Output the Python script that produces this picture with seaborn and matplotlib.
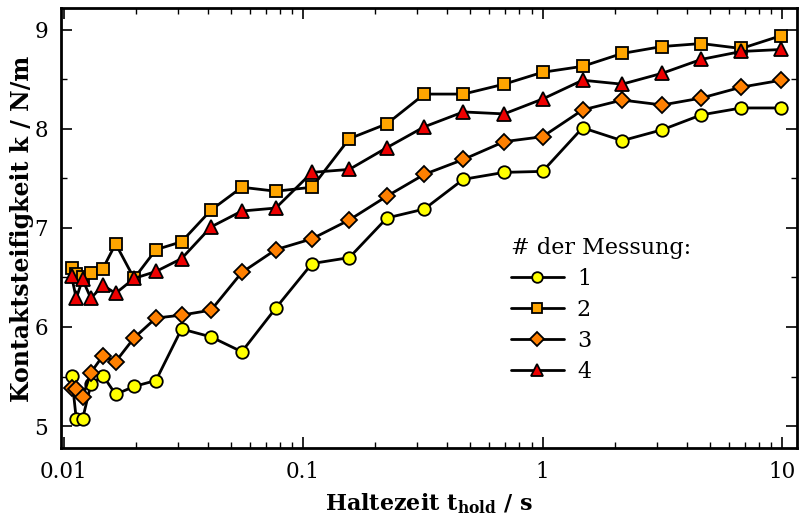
import matplotlib
matplotlib.use("Agg")
import matplotlib.pyplot as plt
import numpy as np
import pandas as pd
import seaborn as sns
from matplotlib.ticker import FixedLocator, FixedFormatter, LogLocator, NullFormatter, MultipleLocator

# Hold times in seconds (shared by all four measurements)
hold_time = [0.0108, 0.0113, 0.0120, 0.0130, 0.0146, 0.0165, 0.0197, 0.0243, 0.0311,
             0.0413, 0.0555, 0.0769, 0.109, 0.156, 0.224, 0.321, 0.467, 0.691,
             1.00, 1.47, 2.15, 3.16, 4.60, 6.76, 9.93]

# Contact stiffness k in N/m for each measurement
k_mess1 = [5.51, 5.07, 5.07, 5.42, 5.51, 5.32, 5.40, 5.46, 5.98, 5.90, 5.75, 6.19, 6.64,
           6.70, 7.10, 7.19, 7.49, 7.56, 7.57, 8.01, 7.88, 7.99, 8.14, 8.21, 8.21]
k_mess2 = [6.60, 6.53, 6.50, 6.54, 6.59, 6.84, 6.49, 6.78, 6.86, 7.18, 7.41, 7.37, 7.41,
           7.90, 8.05, 8.35, 8.35, 8.45, 8.57, 8.63, 8.76, 8.83, 8.86, 8.81, 8.94]
k_mess3 = [5.38, 5.37, 5.29, 5.54, 5.71, 5.65, 5.89, 6.09, 6.12, 6.17, 6.55, 6.78, 6.89,
           7.08, 7.32, 7.54, 7.69, 7.87, 7.92, 8.19, 8.29, 8.24, 8.31, 8.42, 8.49]
k_mess4 = [6.51, 6.29, 6.48, 6.29, 6.42, 6.34, 6.49, 6.56, 6.69, 7.01, 7.17, 7.20, 7.56,
           7.59, 7.81, 8.02, 8.17, 8.15, 8.30, 8.49, 8.45, 8.56, 8.70, 8.78, 8.80]

series_labels = ["1", "2", "3", "4"]
face_colors = ["#FFFF00", "#FFA500", "#FF8000", "#EE0000"]
marker_shapes = ["o", "s", "D", "^"]
marker_sizes = [9, 8.5, 8, 9.5]

x_ticks = [0.01, 0.1, 1, 10]
x_tick_labels = ["0.01", "0.1", "1", "10"]
y_ticks = [5, 6, 7, 8, 9]

sns.set_style("ticks")
plt.rcParams["font.family"] = ["DejaVu Serif"]
plt.rcParams["mathtext.fontset"] = "custom"
plt.rcParams["mathtext.rm"] = "DejaVu Serif"
plt.rcParams["mathtext.bf"] = "DejaVu Serif:bold"
plt.rcParams["text.color"] = "black"
plt.rcParams["axes.labelcolor"] = "black"
plt.rcParams["xtick.color"] = "black"
plt.rcParams["ytick.color"] = "black"

df = pd.DataFrame({
    "t": hold_time * 4,
    "k": k_mess1 + k_mess2 + k_mess3 + k_mess4,
    "Messung": sum([[lab] * len(hold_time) for lab in series_labels], []),
})

fig = plt.figure(figsize=(7.99, 5.22), dpi=100)
ax = fig.add_axes([0.076, 0.141, 0.9215, 0.843])

for lab, fc, mk, ms in zip(series_labels, face_colors, marker_shapes, marker_sizes):
    sub = df[df["Messung"] == lab]
    sns.lineplot(data=sub, x="t", y="k", ax=ax, color="black", linewidth=2.0,
                 marker=mk, markersize=ms, markerfacecolor=fc,
                 markeredgecolor="black", markeredgewidth=1.3, label=lab,
                 estimator=None, sort=False)

ax.set_xscale("log")
ax.set_xlim(0.00973, 11.55)
ax.set_ylim(4.775, 9.215)

ax.xaxis.set_major_locator(FixedLocator(x_ticks))
ax.xaxis.set_major_formatter(FixedFormatter(x_tick_labels))
ax.xaxis.set_minor_locator(LogLocator(base=10, subs=np.arange(2, 10)))
ax.xaxis.set_minor_formatter(NullFormatter())
ax.yaxis.set_major_locator(FixedLocator(y_ticks))
ax.yaxis.set_minor_locator(MultipleLocator(0.5))

ax.tick_params(which="both", direction="in", top=True, right=True,
               labelsize=15.5, colors="black", labelcolor="black")
ax.tick_params(which="major", length=8, width=1.2, pad=9)
ax.tick_params(which="minor", length=4.5, width=1.0)
for sp in ax.spines.values():
    sp.set_linewidth(2.0)
    sp.set_color("black")

ax.set_xlabel(r"Haltezeit $\mathbf{t}_{\mathbf{hold}}$ / s", fontsize=16,
              fontweight="bold", labelpad=6, color="black")
ax.set_ylabel("Kontaktsteifigkeit k / N/m", fontsize=17, fontweight="bold",
              labelpad=0, color="black")

leg = ax.legend(title="# der Messung:", loc="upper left",
                bbox_to_anchor=(0.6, 0.50), frameon=False, fontsize=16,
                title_fontsize=16, handlelength=2.35, handletextpad=0.6,
                labelspacing=0.4, borderaxespad=0, markerscale=0.85,
                labelcolor="black")
leg._legend_box.align = "left"
leg.get_title().set_color("black")

fig.savefig("out.png", dpi=100)
